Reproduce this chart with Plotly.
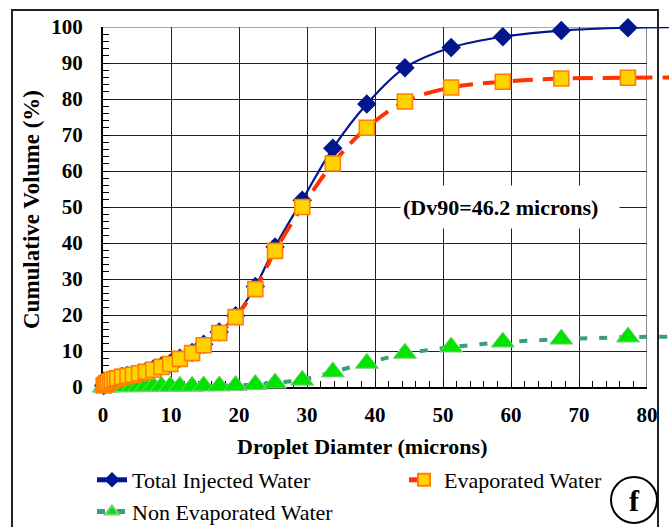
import plotly.graph_objects as go

# ---- data ----
diameter = [0.1, 0.3, 0.5, 0.7, 1.0, 1.3, 1.7, 2.1, 2.8, 3.6, 4.4, 5.3, 6.3, 7.4, 8.6, 9.9,
            11.3, 13.1, 14.8, 17.1, 19.5, 22.4, 25.3, 29.3, 33.8, 38.8, 44.4, 51.2, 58.8, 67.4, 77.2, 88.6]
total_injected = [0.4, 0.7, 1.0, 1.4, 1.7, 2.0, 2.3, 2.5, 2.9, 3.2, 3.5, 3.9, 4.4, 5.0, 5.8, 6.6,
                  8.0, 9.6, 11.9, 15.3, 19.8, 27.9, 38.9, 51.9, 66.3, 78.6, 88.7, 94.3, 97.3, 99.0, 99.8, 100.0]
evaporated = [0.4, 0.7, 1.0, 1.3, 1.6, 1.9, 2.2, 2.4, 2.8, 3.1, 3.4, 3.8, 4.2, 4.8, 5.6, 6.4,
              7.8, 9.4, 11.6, 15.0, 19.4, 27.2, 37.8, 50.0, 62.1, 72.0, 79.3, 83.2, 84.8, 85.7, 85.9, 86.0]
non_evaporated = [0.0, 0.0, 0.0, 0.1, 0.1, 0.1, 0.1, 0.1, 0.1, 0.1, 0.1, 0.1, 0.2, 0.2, 0.2, 0.2,
                  0.2, 0.2, 0.3, 0.3, 0.4, 0.7, 1.1, 1.9, 4.2, 6.6, 9.4, 11.1, 12.5, 13.3, 13.9, 14.0]

x_ticks = [0, 10, 20, 30, 40, 50, 60, 70, 80]
y_ticks = [0, 10, 20, 30, 40, 50, 60, 70, 80, 90, 100]

SERIF = '"Liberation Serif", "Times New Roman", Times, serif'

# layout geometry (px): plot box x 103..647 (x=0..80), y 27..387 (y=0..100); drawing area runs to 669
L, R_AX, R_FIG, T, B = 103, 647, 669, 27, 387
W_DRAW = R_FIG - L
X2_MAX = 80 * W_DRAW / (R_AX - L)

def px_x(p):
    return (p - L) / W_DRAW

def px_y(p):
    return (B - p) / (B - T)

fig = go.Figure()

# empty trace so the visible axes/grid subplot exists
fig.add_trace(go.Scatter(x=[], y=[], xaxis="x", yaxis="y", showlegend=False, hoverinfo="skip"))

fig.add_trace(go.Scatter(
    x=diameter, y=non_evaporated, name="Non Evaporated Water", mode="lines+markers",
    xaxis="x2", yaxis="y2",
    line=dict(color="#3a9e78", width=4, dash="8px,12px"),
    marker=dict(symbol="triangle-up", size=20, color="#00e400",
                line=dict(color="#7ccf7c", width=1)),
    cliponaxis=False, legend="legend", legendrank=3))

fig.add_trace(go.Scatter(
    x=diameter, y=total_injected, name="Total Injected Water", mode="lines+markers",
    xaxis="x2", yaxis="y2",
    line=dict(color="#03178c", width=2.2, shape="spline"),
    marker=dict(symbol="diamond", size=15, color="#03178c"),
    cliponaxis=False, legend="legend", legendrank=1))

fig.add_trace(go.Scatter(
    x=diameter, y=evaporated, name="Evaporated Water", mode="lines+markers",
    xaxis="x2", yaxis="y2",
    line=dict(color="#ff3300", width=4, dash="20px,10px", shape="spline"),
    marker=dict(symbol="square", size=15, color="#ffd200",
                line=dict(color="#ff8000", width=1.6)),
    cliponaxis=False, legend="legend2"))

fig.update_layout(
    width=669, height=527,
    margin=dict(l=L, r=0, t=T, b=527 - B, autoexpand=False),
    paper_bgcolor="white", plot_bgcolor="rgba(0,0,0,0)",
    font=dict(family=SERIF, color="black"),
    showlegend=True,
    legend=dict(orientation="v", x=px_x(92), y=px_y(459), xanchor="left", yanchor="top",
                itemsizing="constant", font=dict(family=SERIF, size=22, color="black"),
                traceorder="normal", bgcolor="rgba(0,0,0,0)", tracegroupgap=0),
    legend2=dict(orientation="v", x=px_x(404), y=px_y(459), xanchor="left", yanchor="top",
                 itemsizing="constant", font=dict(family=SERIF, size=22, color="black"),
                 bgcolor="rgba(0,0,0,0)"),
    xaxis=dict(domain=[0, (R_AX - L) / W_DRAW], range=[0, 80], anchor="y",
               tickvals=x_ticks, ticktext=[str(v) for v in x_ticks],
               showgrid=True, gridcolor="#222222", gridwidth=1.2, automargin=False,
               showline=True, linecolor="black", linewidth=2, zeroline=False,
               ticks="inside", ticklen=6, tickcolor="black", tickwidth=1,
               minor=dict(dtick=2, ticks="inside", ticklen=6, tickcolor="black", showgrid=False),
               tickfont=dict(family=SERIF, size=21, weight="bold"), ticklabelstandoff=8),
    yaxis=dict(domain=[0, 1], range=[0, 100], anchor="x",
               tickvals=y_ticks, ticktext=[str(v) for v in y_ticks],
               showgrid=True, gridcolor="#222222", gridwidth=1.2, automargin=False,
               showline=True, linecolor="black", linewidth=2, zeroline=False,
               ticks="inside", ticklen=6, tickcolor="black", tickwidth=1,
               minor=dict(dtick=2, ticks="inside", ticklen=6, tickcolor="black", showgrid=False),
               tickfont=dict(family=SERIF, size=21, weight="bold"), ticklabelstandoff=14),
    xaxis2=dict(domain=[0, 1], range=[0, X2_MAX], anchor="y2",
                visible=False, showgrid=False, zeroline=False),
    yaxis2=dict(domain=[0, 1], range=[0, 100], anchor="x2",
                visible=False, showgrid=False, zeroline=False),
)

# frame lines (right/top of plot box, outer border, "f" circle)
fig.add_shape(type="line", xref="x", yref="y", x0=80, x1=80, y0=0, y1=100,
              line=dict(color="#8a8a8a", width=2), layer="below")
fig.add_shape(type="line", xref="x", yref="y", x0=0, x1=80, y0=100, y1=100,
              line=dict(color="#8a8a8a", width=1.5), layer="below")
fig.add_shape(type="rect", xref="paper", yref="paper", x0=px_x(12), x1=px_x(658),
              y0=px_y(545), y1=px_y(10), line=dict(color="#222222", width=2), layer="below")
fig.add_shape(type="circle", xref="paper", yref="paper", x0=px_x(611), x1=px_x(657),
              y0=px_y(523), y1=px_y(477), line=dict(color="black", width=2))

fig.add_annotation(text="f", xref="paper", yref="paper", x=px_x(634), y=px_y(500),
                   xanchor="center", yanchor="middle",
                   showarrow=False, font=dict(family=SERIF, size=30, weight="bold"))

# axis titles
fig.add_annotation(text="Cumulative Volume (%)", xref="paper", yref="paper",
                   x=px_x(31), y=px_y(210), textangle=-90, showarrow=False,
                   xanchor="center", yanchor="middle",
                   font=dict(family=SERIF, size=23, weight="bold"))
fig.add_annotation(text="Droplet Diamter (microns)", xref="paper", yref="paper",
                   x=px_x(362), y=px_y(446), showarrow=False,
                   xanchor="center", yanchor="middle",
                   font=dict(family=SERIF, size=22, weight="bold"))

# Dv90 label
fig.add_annotation(text="(Dv90=46.2 microns)", x=59.8, y=50, xref="x", yref="y",
                   xanchor="center", yanchor="middle",
                   showarrow=False, bgcolor="white", width=214, height=38, align="left",
                   borderpad=2, font=dict(family=SERIF, size=22, weight="bold"))

fig.write_html("out.html", config={"displayModeBar": False},
               post_script="document.body.style.margin='0';")
